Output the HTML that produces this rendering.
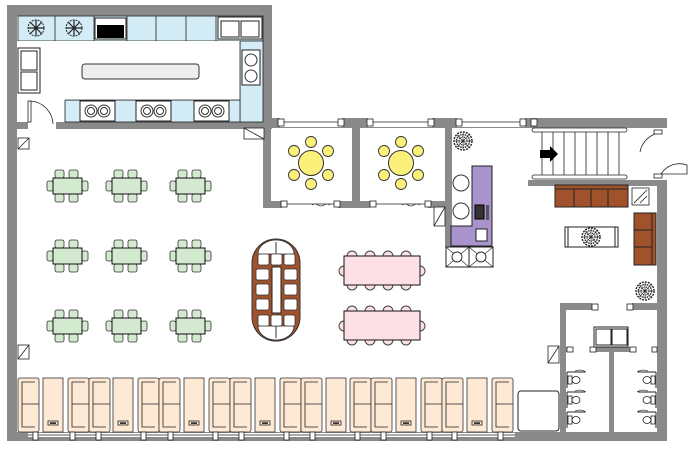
<!DOCTYPE html>
<html><head><meta charset="utf-8"><style>html,body{margin:0;padding:0;background:#fff}svg{display:block}</style></head>
<body>
<svg width="695" height="453" viewBox="0 0 695 453" xmlns="http://www.w3.org/2000/svg">
<defs>
<g id="gt">
 <rect x="2" y="-8" width="9" height="8" rx="2" fill="#d4ead0" stroke="#333" stroke-width="0.8"/>
 <rect x="16" y="-8" width="9" height="8" rx="2" fill="#d4ead0" stroke="#333" stroke-width="0.8"/>
 <rect x="2" y="16" width="9" height="8" rx="2" fill="#d4ead0" stroke="#333" stroke-width="0.8"/>
 <rect x="16" y="16" width="9" height="8" rx="2" fill="#d4ead0" stroke="#333" stroke-width="0.8"/>
 <rect x="-6" y="3" width="6" height="10" rx="2" fill="#d4ead0" stroke="#333" stroke-width="0.8"/>
 <rect x="29" y="3" width="6" height="10" rx="2" fill="#d4ead0" stroke="#333" stroke-width="0.8"/>
 <rect x="0" y="0" width="29" height="16" fill="#d4ead0" stroke="#111" stroke-width="1"/>
</g>
<g id="yc"><circle r="5.5" fill="#fbf07a" stroke="#333" stroke-width="0.9"/></g>
<g id="pc"><circle r="5" fill="#fbe0e6" stroke="#444" stroke-width="1"/></g>
<g id="bo">
 <rect x="0" y="0" width="21" height="54" rx="2" fill="#fde9d4" stroke="#333" stroke-width="0.8"/>
 <path d="M17 4 H4 V49 H17" fill="none" stroke="#222" stroke-width="0.8"/>
 <line x1="4" y1="26" x2="21" y2="26" stroke="#222" stroke-width="0.8"/>
</g>
<g id="bt">
 <rect x="0" y="0" width="20" height="54" fill="#fde9d4" stroke="#333" stroke-width="0.8"/>
 <rect x="5" y="43" width="10" height="4" fill="#fde9d4" stroke="#222" stroke-width="0.8"/>
 <rect x="7" y="44.3" width="6" height="1.6" fill="#222"/>
</g>
<g id="st"><rect width="35" height="20" fill="#fff" stroke="#222" stroke-width="1"/><circle cx="11" cy="10" r="6" fill="#fff" stroke="#333"/><circle cx="11" cy="10" r="3.5" fill="none" stroke="#333"/><circle cx="24" cy="10" r="6" fill="#fff" stroke="#333"/><circle cx="24" cy="10" r="3.5" fill="none" stroke="#333"/></g>
<g id="flk"><circle r="8" fill="none" stroke="#222" stroke-width="1" stroke-dasharray="2 1"/><path d="M-8 0H8M0-8V8M-6-6L6 6M-6 6L6-6" stroke="#222" stroke-width="1.2"/></g>
<g id="pl"><circle r="9" fill="#fff" stroke="#222" stroke-width="1.4" stroke-dasharray="2 1"/><circle r="6.5" fill="none" stroke="#222" stroke-width="1.4" stroke-dasharray="1.5 0.8"/><circle r="4" fill="none" stroke="#222" stroke-width="1.3" stroke-dasharray="1 0.8"/><circle r="1.5" fill="#222"/><path d="M-8 0H8M0-8V8M-6-6L6 6M-6 6L6-6" stroke="#333" stroke-width="0.6"/></g>
<g id="wc"><path d="M0 0H18M0 0V16" stroke="#222" fill="none"/><rect x="1" y="4" width="4" height="8" fill="#fff" stroke="#222" stroke-width="0.8"/><ellipse cx="9" cy="8" rx="4" ry="3.5" fill="#fff" stroke="#222" stroke-width="0.8"/><path d="M19 0 A12 12 0 0 0 8 -1" fill="none" stroke="#222" stroke-width="0.6"/></g>
</defs>

<g fill="#8a8a8a">
 <rect x="7" y="5" width="265" height="11"/>
 <rect x="7" y="5" width="10" height="436"/>
 <rect x="263" y="5" width="9" height="123"/>
 <rect x="17" y="122" width="11" height="7"/>
 <rect x="56" y="122" width="216" height="7"/>
 <rect x="263" y="118" width="404" height="10"/>
 <rect x="7" y="432" width="660" height="9"/>
 <rect x="657" y="118" width="10" height="323"/>
 <rect x="263" y="118" width="8" height="90"/>
 <rect x="352" y="118" width="8" height="90"/>
 <rect x="263" y="201" width="189" height="7"/>
 <rect x="445" y="118" width="7" height="129"/>
 <rect x="528" y="180" width="130" height="6"/>
 <rect x="560" y="303" width="97" height="7"/>
 <rect x="560" y="303" width="6" height="129"/>
 <rect x="566" y="347" width="91" height="5"/>
 <rect x="609" y="347" width="5" height="85"/>
</g>
<g fill="#fff">
 <rect x="657" y="128" width="10" height="52"/>
 <rect x="280" y="118" width="62" height="9"/>
 <rect x="368" y="118" width="64" height="9"/>
 <rect x="457" y="118" width="68" height="9"/>
 <rect x="282" y="201" width="56" height="7"/>
 <rect x="370" y="201" width="58" height="7"/>
 <rect x="592" y="303" width="40" height="7"/>
 <rect x="568" y="347" width="24" height="5"/>
 <rect x="630" y="347" width="24" height="5"/>
</g>
<g stroke="#222" stroke-width="0.8" fill="#fff">
 <line x1="283" y1="122" x2="340" y2="122"/><rect x="278" y="119" width="6" height="7"/><rect x="338" y="119" width="6" height="7"/>
 <line x1="371" y1="122" x2="430" y2="122"/><rect x="367" y="119" width="6" height="7"/><rect x="428" y="119" width="6" height="7"/>
 <line x1="460" y1="122" x2="523" y2="122"/><rect x="456" y="119" width="6" height="7"/><rect x="520" y="119" width="6" height="7"/>
 <rect x="531" y="119" width="6" height="7"/>
 <line x1="283" y1="204" x2="338" y2="204"/><rect x="281" y="201" width="6" height="6"/><rect x="334" y="201" width="6" height="6"/>
 <line x1="372" y1="204" x2="428" y2="204"/><rect x="370" y="201" width="6" height="6"/><rect x="425" y="201" width="6" height="6"/>
 <rect x="592" y="304" width="6" height="6"/><rect x="627" y="304" width="6" height="6"/>
 <rect x="567" y="347" width="6" height="5"/><rect x="590" y="347" width="6" height="5"/>
 <rect x="630" y="347" width="6" height="5"/><rect x="652" y="347" width="5" height="5"/>
</g>
<path d="M312 205 q3-2 6 0 t6 0 t6 0 M402 205 q3-2 6 0 t6 0 t6 0" stroke="#444" fill="none" stroke-width="0.8"/>

<rect x="18" y="16" width="245" height="25" fill="#d3ecf5" stroke="#222" stroke-width="0.8"/>
<g stroke="#222" stroke-width="0.8" fill="none"><line x1="55" y1="16" x2="55" y2="41"/><line x1="94" y1="16" x2="94" y2="41"/><line x1="127" y1="16" x2="127" y2="41"/><line x1="156" y1="16" x2="156" y2="41"/><line x1="186" y1="16" x2="186" y2="41"/><line x1="216" y1="16" x2="216" y2="41"/></g>
<rect x="95" y="18" width="31" height="21" fill="#fff" stroke="#222"/><rect x="97" y="25" width="27" height="13" fill="#000"/>
<rect x="218" y="17" width="44" height="22" fill="#fff" stroke="#222"/><rect x="221" y="21" width="18" height="16" fill="#fff" stroke="#222"/><rect x="241" y="21" width="18" height="16" fill="#fff" stroke="#222"/>
<use href="#flk" x="36" y="28"/><use href="#flk" x="74" y="28"/>
<rect x="240" y="41" width="23" height="81" fill="#d3ecf5" stroke="#222" stroke-width="0.8"/>
<rect x="65" y="100" width="175" height="22" fill="#d3ecf5" stroke="#222" stroke-width="0.8"/>
<rect x="18" y="41" width="222" height="59" fill="#fff" stroke="none"/>
<path d="M240 41 V100 H65" fill="none" stroke="#222" stroke-width="0.8"/>
<rect x="242" y="50" width="18" height="35" fill="#fff" stroke="#222"/><circle cx="251" cy="60" r="6" fill="#fff" stroke="#333"/><circle cx="251" cy="76" r="6" fill="#fff" stroke="#333"/>
<use href="#st" x="80" y="101"/><use href="#st" x="136" y="101"/><use href="#st" x="194" y="101"/>
<rect x="18" y="48" width="22" height="45" fill="#fff" stroke="#222"/><rect x="21" y="51" width="16" height="19" fill="#fff" stroke="#222"/><rect x="21" y="72" width="16" height="18" fill="#fff" stroke="#222"/>
<rect x="82" y="64" width="117" height="15" rx="3" fill="#eee" stroke="#333"/>
<path d="M30 101 V122 M30 101 A24 24 0 0 1 53 124" stroke="#222" fill="none" stroke-width="0.8"/><rect x="28" y="101" width="3" height="21" fill="#fff" stroke="#222" stroke-width="0.8"/>

<g fill="#fff" stroke="#222" stroke-width="0.8">
 <rect x="18" y="138" width="11" height="11"/><line x1="18" y1="149" x2="29" y2="138"/>
 <rect x="18" y="345" width="11" height="14"/><line x1="18" y1="359" x2="29" y2="345"/>
 <rect x="244" y="128" width="20" height="11"/><line x1="244" y1="128" x2="264" y2="139"/>
 <rect x="434" y="207" width="11" height="19"/><line x1="434" y1="226" x2="445" y2="207"/>
 <rect x="548" y="346" width="11" height="17"/><line x1="548" y1="363" x2="559" y2="346"/>
 <rect x="632" y="188" width="17" height="17"/><line x1="634" y1="203" x2="647" y2="190"/><line x1="640" y1="203" x2="647" y2="196"/>
</g>

<use href="#gt" x="53" y="178"/><use href="#gt" x="112" y="178"/><use href="#gt" x="176" y="178"/>
<use href="#gt" x="53" y="248"/><use href="#gt" x="112" y="248"/><use href="#gt" x="176" y="248"/>
<use href="#gt" x="53" y="318"/><use href="#gt" x="112" y="318"/><use href="#gt" x="176" y="318"/>

<g transform="translate(311,163)"><use href="#yc" x="0" y="-21"/><use href="#yc" x="17" y="-12"/><use href="#yc" x="17" y="12"/><use href="#yc" x="0" y="21"/><use href="#yc" x="-17" y="12"/><use href="#yc" x="-17" y="-12"/><circle r="12.5" fill="#fbf07a" stroke="#333"/></g>
<g transform="translate(401,163)"><use href="#yc" x="0" y="-21"/><use href="#yc" x="17" y="-12"/><use href="#yc" x="17" y="12"/><use href="#yc" x="0" y="21"/><use href="#yc" x="-17" y="12"/><use href="#yc" x="-17" y="-12"/><circle r="12.5" fill="#fbf07a" stroke="#333"/></g>

<rect x="252" y="239" width="48" height="102" rx="24" fill="#a0522d" stroke="#333"/>
<path d="M258 254 A18 14 0 0 1 294 254 Z M258 326 A18 14 0 0 0 294 326 Z" fill="#fff" stroke="#333" stroke-width="0.8"/>
<line x1="276" y1="242" x2="276" y2="254" stroke="#333"/><line x1="276" y1="326" x2="276" y2="338" stroke="#333"/>
<rect x="272" y="267" width="9" height="46" fill="#fff" stroke="#222"/>
<g fill="#fff" stroke="#333" stroke-width="0.8">
 <rect x="258" y="254" width="11" height="11" rx="2"/><rect x="271" y="254" width="11" height="11" rx="2"/><rect x="284" y="254" width="11" height="11" rx="2"/>
 <rect x="258" y="315" width="11" height="11" rx="2"/><rect x="271" y="315" width="11" height="11" rx="2"/><rect x="284" y="315" width="11" height="11" rx="2"/>
 <rect x="256" y="269" width="13" height="11" rx="2"/><rect x="256" y="284" width="13" height="11" rx="2"/><rect x="256" y="299" width="13" height="11" rx="2"/>
 <rect x="284" y="269" width="13" height="11" rx="2"/><rect x="284" y="284" width="13" height="11" rx="2"/><rect x="284" y="299" width="13" height="11" rx="2"/>
</g>

<g><use href="#pc" x="352" y="256"/><use href="#pc" x="370" y="256"/><use href="#pc" x="388" y="256"/><use href="#pc" x="406" y="256"/>
<use href="#pc" x="352" y="285"/><use href="#pc" x="370" y="285"/><use href="#pc" x="388" y="285"/><use href="#pc" x="406" y="285"/>
<use href="#pc" x="344" y="271"/><use href="#pc" x="420" y="271"/>
<rect x="344" y="256" width="76" height="29" fill="#fde0e6" stroke="#111"/></g>
<g><use href="#pc" x="352" y="311"/><use href="#pc" x="370" y="311"/><use href="#pc" x="388" y="311"/><use href="#pc" x="406" y="311"/>
<use href="#pc" x="352" y="340"/><use href="#pc" x="370" y="340"/><use href="#pc" x="388" y="340"/><use href="#pc" x="406" y="340"/>
<use href="#pc" x="344" y="326"/><use href="#pc" x="420" y="326"/>
<rect x="344" y="311" width="76" height="29" fill="#fde0e6" stroke="#111"/></g>

<use href="#pl" x="463" y="141"/>
<path d="M472 166 H492 V246 H451 V226 H472 Z" fill="#a993cc" stroke="#222"/>
<circle cx="461" cy="183" r="8" fill="#fff" stroke="#333"/><circle cx="461" cy="211" r="8" fill="#fff" stroke="#333"/>
<rect x="475" y="205" width="9" height="14" fill="#333" stroke="#000"/><rect x="486" y="205" width="3" height="15" fill="#555"/>
<rect x="476" y="229" width="11" height="12" fill="#fff" stroke="#222"/>
<rect x="446" y="247" width="23" height="20" fill="#fff" stroke="#222"/><rect x="469" y="247" width="24" height="20" fill="#fff" stroke="#222"/>
<path d="M446 247 L469 267 M469 247 L446 267 M469 247 L493 267 M493 247 L469 267" stroke="#222" stroke-width="0.6"/>
<ellipse cx="457" cy="257" rx="5" ry="5" fill="#fff" stroke="#333"/><ellipse cx="481" cy="257" rx="5" ry="5" fill="#fff" stroke="#333"/>

<g stroke="#222" stroke-width="0.8" fill="none">
 <rect x="532" y="128" width="95" height="4" rx="2"/><rect x="532" y="175" width="95" height="4" rx="2"/>
 <path d="M542 132V175M553 132V175M564 132V175M575 132V175M586 132V175M597 132V175M608 132V175M619 132V175"/>
</g>
<path d="M540 150 H550 V146 L558 154 L550 162 V158 H540 Z" fill="#000"/>
<rect x="654" y="130" width="8" height="4" fill="#fff" stroke="#222" stroke-width="0.8"/><rect x="654" y="174" width="8" height="4" fill="#fff" stroke="#222" stroke-width="0.8"/>
<path d="M655 134 A24 24 0 0 0 640 152 M661 174 A22 22 0 0 1 687 165 L687 174 H661" fill="none" stroke="#222" stroke-width="0.8"/>

<rect x="555" y="185" width="73" height="22" fill="#a0522d" stroke="#222"/><rect x="555" y="185" width="73" height="4" fill="#a0522d" stroke="#222"/>
<path d="M574 189V207M591 189V207M608 189V207" stroke="#222"/>
<rect x="634" y="213" width="22" height="52" fill="#a0522d" stroke="#222"/><rect x="652" y="213" width="4" height="52" fill="#a0522d" stroke="#222"/>
<path d="M634 230H652M634 247H652" stroke="#222"/>
<rect x="565" y="227" width="53" height="20" fill="#fff" stroke="#222"/><line x1="568" y1="227" x2="568" y2="247" stroke="#222"/><line x1="615" y1="227" x2="615" y2="247" stroke="#222"/>
<use href="#pl" x="591" y="237"/>
<use href="#pl" x="645" y="291"/>

<rect x="594" y="327" width="34" height="20" fill="#fff" stroke="#222"/><rect x="596" y="329" width="15" height="16" fill="#fff" stroke="#222"/><rect x="612" y="329" width="15" height="16" fill="#fff" stroke="#222"/>
<use href="#wc" x="567" y="372"/><use href="#wc" x="567" y="392"/><use href="#wc" x="567" y="412"/>
<g transform="translate(656,0) scale(-1,1)"><use href="#wc" x="0" y="372"/><use href="#wc" x="0" y="392"/><use href="#wc" x="0" y="412"/></g>
<rect x="518" y="391" width="41" height="40" rx="3" fill="#fff" stroke="#222"/>

<use href="#bo" x="18" y="378"/><use href="#bt" x="43" y="378"/>
<use href="#bo" x="68" y="378"/><use href="#bo" x="89" y="378"/><use href="#bt" x="113" y="378"/>
<use href="#bo" x="138" y="378"/><use href="#bo" x="159" y="378"/><use href="#bt" x="184" y="378"/>
<use href="#bo" x="209" y="378"/><use href="#bo" x="230" y="378"/><use href="#bt" x="255" y="378"/>
<use href="#bo" x="280" y="378"/><use href="#bo" x="301" y="378"/><use href="#bt" x="326" y="378"/>
<use href="#bo" x="350" y="378"/><use href="#bo" x="371" y="378"/><use href="#bt" x="396" y="378"/>
<use href="#bo" x="421" y="378"/><use href="#bo" x="442" y="378"/><use href="#bt" x="467" y="378"/>
<use href="#bo" x="492" y="378"/>
<rect x="28" y="433" width="487" height="4" fill="#fff"/>
<line x1="28" y1="435" x2="515" y2="435" stroke="#222" stroke-width="0.8"/>
<g fill="#fff" stroke="#222" stroke-width="0.8">
<rect x="33" y="432" width="5" height="8"/><rect x="70" y="432" width="5" height="8"/><rect x="96" y="432" width="5" height="8"/><rect x="141" y="432" width="5" height="8"/><rect x="168" y="432" width="5" height="8"/><rect x="213" y="432" width="5" height="8"/><rect x="239" y="432" width="5" height="8"/><rect x="284" y="432" width="5" height="8"/><rect x="310" y="432" width="5" height="8"/><rect x="355" y="432" width="5" height="8"/><rect x="381" y="432" width="5" height="8"/><rect x="427" y="432" width="5" height="8"/><rect x="452" y="432" width="5" height="8"/><rect x="498" y="432" width="5" height="8"/>
</g>
</svg>
</body></html>
